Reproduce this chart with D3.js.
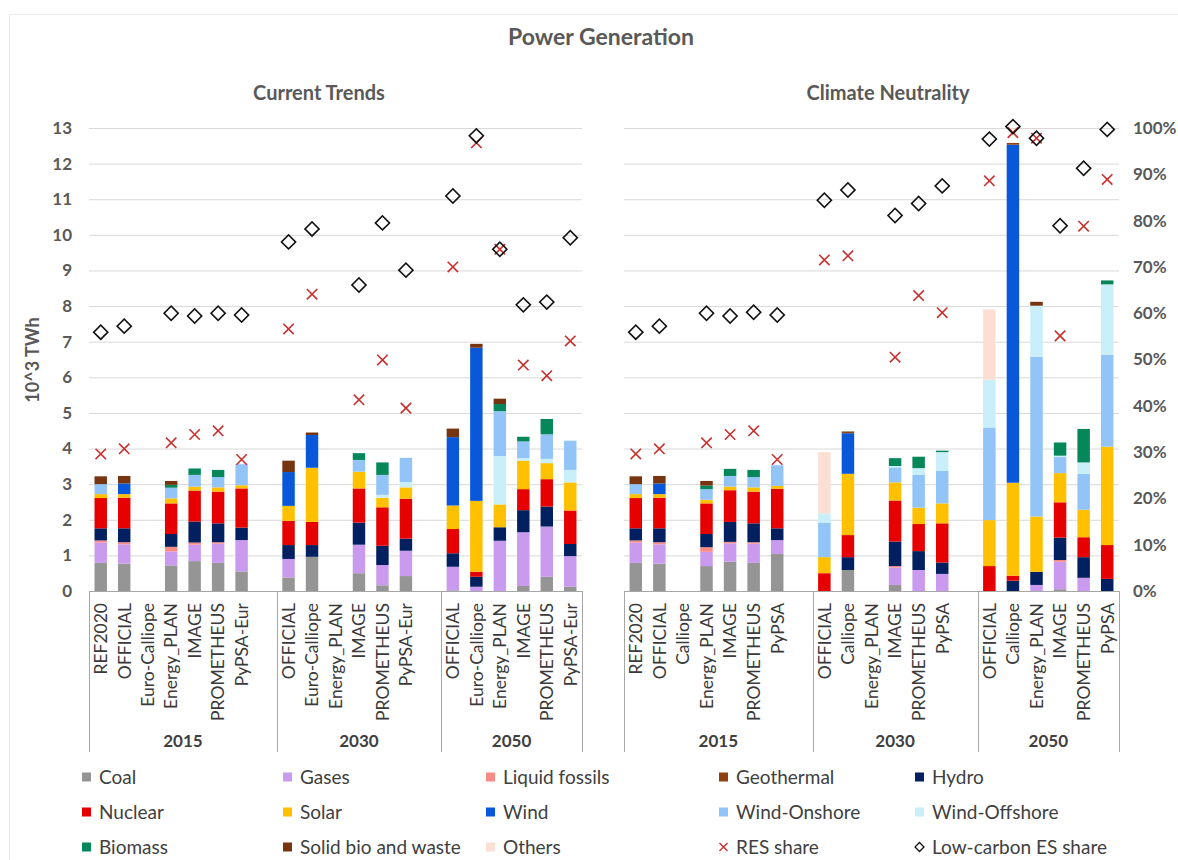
<!DOCTYPE html>
<html>
<head>
<meta charset="utf-8">
<script src="https://cdn.jsdelivr.net/npm/d3@7"></script>
<style>
  body { margin: 0; background: #fff; }
  text { font-family: Lato, "Open Sans", sans-serif; }
</style>
</head>
<body>
<div id="canvas"></div>
<script>
// ---- data ----
const years = ["2015", "2030", "2050"];
const ctModels = [
    ["REF2020", "OFFICIAL", "Euro-Calliope", "Energy_PLAN", "IMAGE", "PROMETHEUS", "PyPSA-Eur"],
    ["OFFICIAL", "Euro-Calliope", "Energy_PLAN", "IMAGE", "PROMETHEUS", "PyPSA-Eur"],
    ["OFFICIAL", "Euro-Calliope", "Energy_PLAN", "IMAGE", "PROMETHEUS", "PyPSA-Eur"]
];
const cnModels = [
    ["REF2020", "OFFICIAL", "Calliope", "Energy_PLAN", "IMAGE", "PROMETHEUS", "PyPSA"],
    ["OFFICIAL", "Calliope", "Energy_PLAN", "IMAGE", "PROMETHEUS", "PyPSA"],
    ["OFFICIAL", "Calliope", "Energy_PLAN", "IMAGE", "PROMETHEUS", "PyPSA"]
];

// Current Trends, 10^3 TWh (bars in order above, 19 values)
const ctCoal       = [.79, .77, 0, .72, .84, .79, .55,  .38, .96, 0, .50, .16, .42,  .02, 0, 0, .14, .40, .12];
const ctGases      = [.57, .54, 0, .39, .46, .54, .88,  .52, 0, 0, .80, .57, .71,  .66, .12, 1.41, 1.51, 1.41, .86];
const ctLiquid     = [.06, .06, 0, .13, .06, .04, 0,  0, 0, 0, 0, 0, 0,  0, 0, 0, 0, 0, 0];
const ctHydro      = [.34, .39, 0, .36, .59, .53, .35,  .39, .33, 0, .62, .54, .34,  .38, .28, .38, .62, .56, .34];
const ctNuclear    = [.85, .86, 0, .86, .87, .89, 1.10,  .68, .65, 0, .96, 1.08, 1.12,  .68, .14, 0, .59, .77, .94];
const ctSolar      = [.11, .10, 0, .14, .11, .12, .09,  .42, 1.52, 0, .47, .27, .32,  .66, 1.99, .64, .80, .45, .79];
const ctWind       = [0, .30, 0, 0, 0, 0, 0,  .95, .92, 0, 0, 0, 0,  1.92, 4.30, 0, 0, 0, 0];
const ctOffshore   = [0, 0, 0, 0, 0, 0, 0,  0, 0, 0, 0, .08, .15,  0, 0, 1.36, .07, .12, .35];
const ctOnshore    = [.28, 0, 0, .30, .33, .29, .59,  0, 0, 0, .33, .56, .68,  0, 0, 1.26, .47, .69, .82];
const ctOthers     = [0, 0, 0, 0, 0, 0, 0,  0, 0, 0, 0, 0, 0,  0, 0, 0, 0, 0, 0];
const ctBiomass    = [0, 0, 0, .08, .18, .20, 0,  0, 0, 0, .19, .35, 0,  0, 0, .20, .13, .43, 0];
const ctGeothermal = [0, 0, 0, 0, 0, 0, 0,  0, 0, 0, 0, 0, 0,  0, 0, 0, 0, 0, 0];
const ctSolidBio   = [.22, .21, 0, .11, 0, 0, 0,  .32, .07, 0, 0, 0, 0,  .24, .11, .15, 0, 0, 0];
const ctRes        = [29.6, 30.7, null, 32.0, 33.8, 34.6, 28.4,  56.6, 64.1, null, 41.3, 49.9, 39.5,  70.0, 96.8, 73.8, 48.8, 46.5, 54.0];
const ctLowCarbon  = [55.9, 57.2, null, 60.0, 59.4, 60.0, 59.6,  75.4, 78.2, null, 66.1, 79.5, 69.3,  85.3, 98.3, 73.8, 61.8, 62.4, 76.3];

// Climate Neutrality
const cnCoal       = [.79, .77, 0, .70, .82, .79, 1.04,  0, .59, 0, .17, 0, 0,  0, 0, 0, .05, 0, 0];
const cnGases      = [.57, .54, 0, .40, .52, .54, .39,  0, 0, 0, .49, .59, .48,  0, 0, .17, .77, .37, 0];
const cnLiquid     = [.06, .06, 0, .13, .04, .04, 0,  0, 0, 0, .04, 0, 0,  0, 0, 0, .05, 0, 0];
const cnHydro      = [.34, .39, 0, .37, .56, .53, .33,  0, .36, 0, .69, .53, .32,  0, .29, .37, .63, .58, .34];
const cnNuclear    = [.85, .86, 0, .86, .89, .89, 1.11,  .50, .62, 0, 1.15, .76, 1.10,  .70, .14, 0, .99, .56, .95];
const cnSolar      = [.11, .10, 0, .10, .10, .12, .08,  .45, 1.72, 0, .51, .46, .56,  1.29, 2.61, 1.55, .82, .77, 2.76];
const cnWind       = [0, .30, 0, 0, 0, 0, 0,  0, 1.14, 0, 0, 0, 0,  0, 9.49, 0, 0, 0, 0];
const cnOnshore    = [.28, 0, 0, .30, .30, .29, .58,  .97, 0, 0, .42, .92, .91,  2.60, 0, 4.49, .45, 1.01, 2.58];
const cnOffshore   = [0, 0, 0, 0, 0, 0, 0,  .26, 0, 0, .04, .19, .53,  1.34, 0, 1.43, .04, .32, 1.98];
const cnOthers     = [0, 0, 0, 0, 0, 0, 0,  1.72, 0, 0, 0, 0, 0,  1.98, 0, 0, 0, 0, 0];
const cnBiomass    = [0, 0, 0, .10, .20, .20, 0,  0, 0, 0, .22, .32, .04,  0, 0, 0, .37, .94, .11];
const cnGeothermal = [0, 0, 0, 0, 0, 0, 0,  0, .05, 0, 0, 0, 0,  0, .05, 0, 0, 0, 0];
const cnSolidBio   = [.22, .21, 0, .13, 0, 0, 0,  0, 0, 0, 0, 0, 0,  0, 0, .11, 0, 0, 0];
const cnRes        = [29.6, 30.7, null, 32.0, 33.8, 34.6, 28.4,  71.5, 72.4, null, 50.5, 63.8, 60.1,  88.6, 99.0, 97.8, 55.1, 78.8, 88.9];
const cnLowCarbon  = [55.9, 57.2, null, 60.0, 59.4, 60.2, 59.6,  84.4, 86.6, null, 81.1, 83.7, 87.5,  97.6, 100.3, 97.8, 78.9, 91.3, 99.7];

const yTicks = d3.range(0, 14);
const pctTicks = d3.range(0, 101, 10);

// ---- styles ----
const colors = {
    "Coal": "#959595", "Gases": "#C99AEE", "Liquid fossils": "#F98B87", "Geothermal": "#8E420F",
    "Hydro": "#022060", "Nuclear": "#E60000", "Solar": "#FFC000", "Wind": "#0A58DA",
    "Wind-Onshore": "#92C4F8", "Wind-Offshore": "#C8EFFA", "Biomass": "#06875A",
    "Solid bio and waste": "#763510", "Others": "#FCDFD3"
};
const textCol = "#595959";
const W = 1178, H = 860;
const y0 = 591, y1 = 128;
const boxBottom = 752;

const svg = d3.select("#canvas").append("svg")
    .attr("width", W)
    .attr("height", H);

svg.append("rect")
    .attr("x", 9.5).attr("y", 14.5)
    .attr("width", W + 20).attr("height", H + 20)
    .attr("fill", "none").attr("stroke", "#ececec");

const y = d3.scaleLinear().domain([0, 13]).range([y0, y1]);
const yPct = d3.scaleLinear().domain([0, 100]).range([y0, y1]);

svg.append("text")
    .attr("x", 601).attr("y", 45)
    .attr("text-anchor", "middle")
    .attr("font-size", 23).attr("font-weight", "bold")
    .attr("fill", textCol)
    .text("Power Generation");

svg.append("text")
    .attr("transform", "translate(39, 360) rotate(-90)")
    .attr("text-anchor", "middle")
    .attr("font-size", 18).attr("font-weight", "bold")
    .attr("fill", textCol)
    .text("10^3 TWh");

function drawPanel(cfg) {
    const g = svg.append("g");

    // slots: models of each year plus blank spacer slots
    const keys = [];
    const bars = [];
    cfg.models.forEach((ms, gi) => {
        ms.forEach(m => {
            const k = years[gi] + "|" + m;
            keys.push(k);
            bars.push(k);
        });
        for (let b = 0; b < cfg.blanks[gi]; b++) keys.push(years[gi] + "|_blank" + b);
    });

    const x = d3.scaleBand()
        .domain(keys)
        .range([cfg.x0, cfg.x1])
        .paddingInner(0.47)
        .paddingOuter(0.235);
    const step = x.step();

    g.append("text")
        .attr("x", cfg.titleX).attr("y", 100)
        .attr("text-anchor", "middle")
        .attr("font-size", 20).attr("font-weight", "bold")
        .attr("fill", textCol)
        .text(cfg.title);

    // gridlines
    g.selectAll(".grid")
        .data(yTicks.filter(d => d > 0))
        .enter().append("line")
        .attr("x1", cfg.x0).attr("x2", cfg.x1)
        .attr("y1", d => y(d) + 0.5).attr("y2", d => y(d) + 0.5)
        .attr("stroke", "#d9d9d9");

    // stacked bars
    const rows = bars.map((k, i) => {
        const r = { key: k };
        cfg.order.forEach(s => { r[s] = cfg.series[s][i]; });
        return r;
    });
    const stacked = d3.stack().keys(cfg.order)(rows);

    g.selectAll(".layer")
        .data(stacked)
        .enter().append("g")
        .attr("fill", d => colors[d.key])
        .selectAll("rect")
        .data(d => d.filter(p => p[1] - p[0] > 0))
        .enter().append("rect")
        .attr("x", d => x(d.data.key))
        .attr("y", d => y(d[1]))
        .attr("width", x.bandwidth())
        .attr("height", d => y(d[0]) - y(d[1]));

    // category axis box
    const xAxisCall = d3.axisBottom(x)
        .tickSize(0)
        .tickFormat(k => k.includes("_blank") ? "" : k.split("|")[1]);
    const ax = g.append("g")
        .attr("transform", `translate(0, ${y0})`)
        .call(xAxisCall);
    ax.select(".domain").remove();
    ax.selectAll("text")
        .attr("transform", "rotate(-90)")
        .attr("text-anchor", "end")
        .attr("x", -12)
        .attr("y", 0)
        .attr("dy", "0.36em")
        .attr("font-size", 17.5)
        .attr("font-family", "Lato, sans-serif")
        .attr("fill", "#3a3a3a");

    g.append("line")
        .attr("x1", cfg.x0).attr("x2", cfg.x1)
        .attr("y1", y0 + 0.5).attr("y2", y0 + 0.5)
        .attr("stroke", "#a6a6a6");

    let cum = 0;
    const edges = [cfg.x0];
    cfg.models.forEach((ms, gi) => {
        const n = ms.length + cfg.blanks[gi];
        const start = cfg.x0 + cum * step;
        cum += n;
        const end = cfg.x0 + cum * step;
        edges.push(end);
        g.append("text")
            .attr("x", (start + end) / 2).attr("y", 747)
            .attr("text-anchor", "middle")
            .attr("font-size", 17).attr("font-weight", "bold")
            .attr("fill", "#404040")
            .text(years[gi]);
    });
    g.selectAll(".sep")
        .data(edges)
        .enter().append("line")
        .attr("x1", d => Math.round(d) + 0.5).attr("x2", d => Math.round(d) + 0.5)
        .attr("y1", y0).attr("y2", boxBottom)
        .attr("stroke", "#a6a6a6");

    // share markers
    const cx = k => x(k) + x.bandwidth() / 2;
    const r = 5.2;
    g.selectAll(".res")
        .data(bars.map((k, i) => ({ k, v: cfg.res[i] })).filter(d => d.v != null))
        .enter().append("path")
        .attr("transform", d => `translate(${cx(d.k)}, ${yPct(d.v)})`)
        .attr("d", `M${-r},${-r}L${r},${r}M${-r},${r}L${r},${-r}`)
        .attr("stroke", "#C8302E").attr("stroke-width", 1.6)
        .attr("fill", "none");

    g.selectAll(".lowc")
        .data(bars.map((k, i) => ({ k, v: cfg.low[i] })).filter(d => d.v != null))
        .enter().append("path")
        .attr("transform", d => `translate(${cx(d.k)}, ${yPct(d.v)}) rotate(45)`)
        .attr("d", d3.symbol(d3.symbolSquare, 100))
        .attr("stroke", "#111").attr("stroke-width", 1.6)
        .attr("fill", "none");

    return g;
}

drawPanel({
    title: "Current Trends", titleX: 319,
    x0: 89, x1: 582,
    models: ctModels, blanks: [1, 1, 0],
    order: ["Coal", "Gases", "Liquid fossils", "Hydro", "Nuclear", "Solar", "Wind", "Wind-Offshore",
        "Wind-Onshore", "Others", "Biomass", "Geothermal", "Solid bio and waste"],
    series: {
        "Coal": ctCoal, "Gases": ctGases, "Liquid fossils": ctLiquid, "Hydro": ctHydro,
        "Nuclear": ctNuclear, "Solar": ctSolar, "Wind": ctWind, "Wind-Offshore": ctOffshore,
        "Wind-Onshore": ctOnshore, "Others": ctOthers, "Biomass": ctBiomass,
        "Geothermal": ctGeothermal, "Solid bio and waste": ctSolidBio
    },
    res: ctRes, low: ctLowCarbon
});

drawPanel({
    title: "Climate Neutrality", titleX: 888,
    x0: 624, x1: 1119,
    models: cnModels, blanks: [1, 1, 0],
    order: ["Coal", "Gases", "Liquid fossils", "Hydro", "Nuclear", "Solar", "Wind", "Wind-Onshore",
        "Wind-Offshore", "Others", "Biomass", "Geothermal", "Solid bio and waste"],
    series: {
        "Coal": cnCoal, "Gases": cnGases, "Liquid fossils": cnLiquid, "Hydro": cnHydro,
        "Nuclear": cnNuclear, "Solar": cnSolar, "Wind": cnWind, "Wind-Onshore": cnOnshore,
        "Wind-Offshore": cnOffshore, "Others": cnOthers, "Biomass": cnBiomass,
        "Geothermal": cnGeothermal, "Solid bio and waste": cnSolidBio
    },
    res: cnRes, low: cnLowCarbon
});

// left value axis
const yAxisCall = d3.axisLeft(y).tickValues(yTicks).tickSize(0).tickPadding(17);
const yl = svg.append("g")
    .attr("transform", "translate(89, 0)")
    .call(yAxisCall);
yl.select(".domain").remove();
yl.selectAll("text")
    .attr("font-size", 17).attr("font-weight", "bold")
    .attr("font-family", "Lato, sans-serif")
    .attr("fill", textCol);

// right percent axis
const pAxisCall = d3.axisRight(yPct).tickValues(pctTicks).tickSize(0).tickPadding(14)
    .tickFormat(d => d + "%");
const yr = svg.append("g")
    .attr("transform", "translate(1119, 0)")
    .call(pAxisCall);
yr.select(".domain").remove();
yr.selectAll("text")
    .attr("font-size", 17).attr("font-weight", "bold")
    .attr("font-family", "Lato, sans-serif")
    .attr("fill", textCol);

// legend
const legendNames = [
    "Coal", "Gases", "Liquid fossils", "Geothermal", "Hydro",
    "Nuclear", "Solar", "Wind", "Wind-Onshore", "Wind-Offshore",
    "Biomass", "Solid bio and waste", "Others", "RES share", "Low-carbon ES share"
];
const legendCols = [82, 283, 486, 719, 915];
const legendRows = [777, 812, 847];

const leg = svg.append("g")
    .selectAll("g")
    .data(legendNames)
    .enter().append("g")
    .attr("transform", (d, i) => `translate(${legendCols[i % 5]}, ${legendRows[Math.floor(i / 5)]})`);

leg.filter(d => colors[d])
    .append("rect")
    .attr("x", 0).attr("y", -4.5)
    .attr("width", 9).attr("height", 9)
    .attr("fill", d => colors[d]);

leg.filter(d => d === "RES share")
    .append("path")
    .attr("d", "M0.5,-4L8.5,4M0.5,4L8.5,-4")
    .attr("stroke", "#C8302E").attr("stroke-width", 1.4);

leg.filter(d => d === "Low-carbon ES share")
    .append("path")
    .attr("transform", "translate(4.5, 0) rotate(45)")
    .attr("d", d3.symbol(d3.symbolSquare, 40))
    .attr("stroke", "#111").attr("stroke-width", 1.3)
    .attr("fill", "none");

leg.append("text")
    .attr("x", 17).attr("y", 0)
    .attr("dy", "0.36em")
    .attr("font-size", 19)
    .attr("fill", "#404040")
    .text(d => d);
</script>
</body>
</html>
